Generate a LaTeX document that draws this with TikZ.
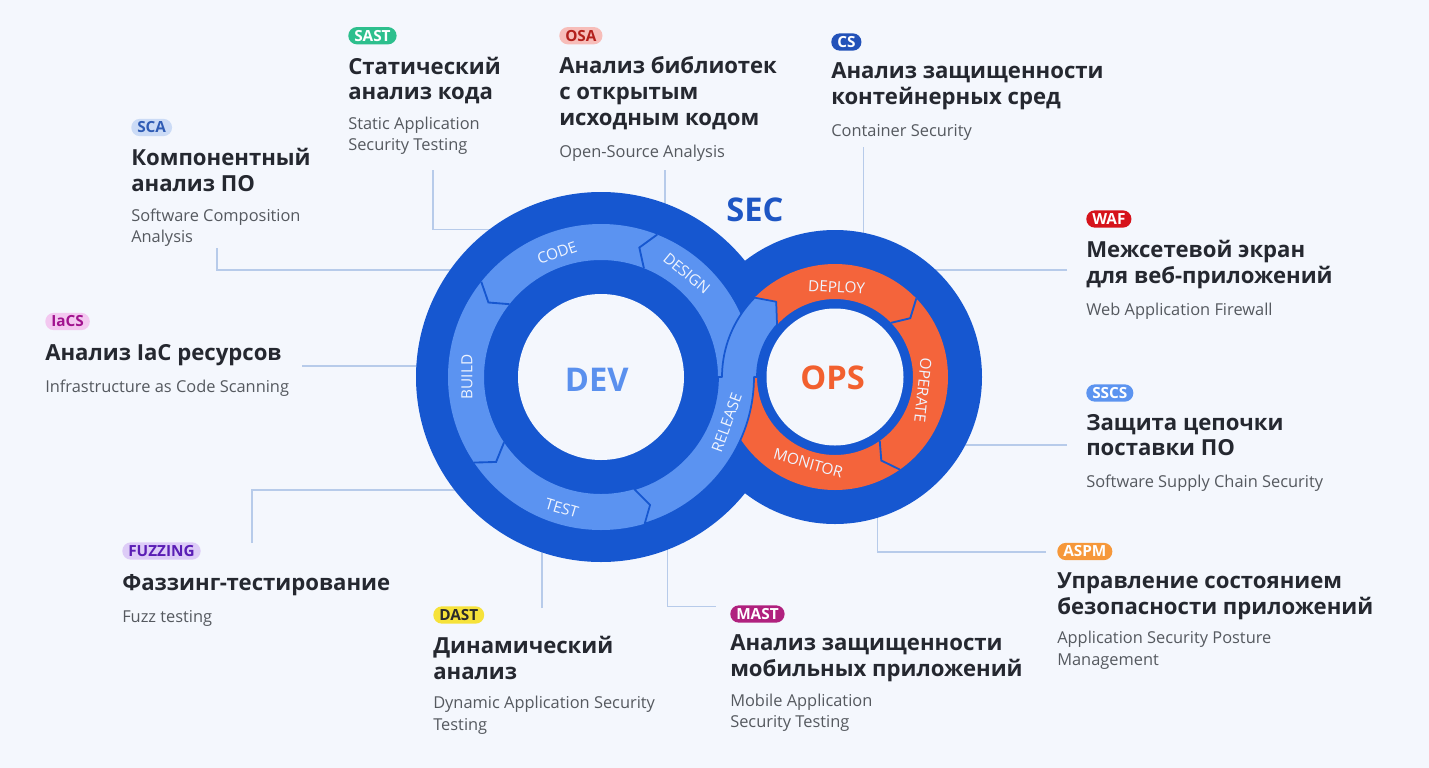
\documentclass[tikz,border=0pt]{standalone}
\usepackage{fontspec}
\setmainfont{Open Sans}
\usepackage{xcolor}
\usepackage{tikz}
\usetikzlibrary{positioning}

\definecolor{pagebg}{HTML}{F4F7FD}
\definecolor{ringdark}{HTML}{1657D0}
\definecolor{ringlight}{HTML}{5B93F1}
\definecolor{ringorange}{HTML}{F4643B}
\definecolor{devtext}{HTML}{5A90EE}
\definecolor{opstext}{HTML}{F2602F}
\definecolor{sectext}{HTML}{1E56C4}
\definecolor{linkcol}{HTML}{B7CBEA}
\definecolor{titleink}{HTML}{252830}
\definecolor{subink}{HTML}{55595F}
% badge colours
\definecolor{sastbg}{HTML}{2DBF8D}
\definecolor{osabg}{HTML}{F7BDB9}
\definecolor{osatx}{HTML}{B3201C}
\definecolor{csbg}{HTML}{2352B9}
\definecolor{scabg}{HTML}{CBDBF6}
\definecolor{scatx}{HTML}{2F5CB5}
\definecolor{iacbg}{HTML}{F3C8F0}
\definecolor{iactx}{HTML}{A1128E}
\definecolor{wafbg}{HTML}{D6131B}
\definecolor{sscsbg}{HTML}{5C94F0}
\definecolor{fuzzbg}{HTML}{DDCCF7}
\definecolor{fuzztx}{HTML}{5A1DB5}
\definecolor{dastbg}{HTML}{F6E23A}
\definecolor{dasttx}{HTML}{2B2B2B}
\definecolor{mastbg}{HTML}{B0217E}
\definecolor{aspmbg}{HTML}{F6983A}

\begin{document}
\begin{tikzpicture}[
    x=0.75pt, y=-0.75pt,
    badge/.style={
        anchor=west,
        rounded corners=6.5pt,
        minimum height=13pt,
        inner xsep=4.5pt, inner ysep=0pt,
        text height=8.2pt, text depth=0pt,
        font=\fontsize{11.5}{13}\selectfont\bfseries
    },
    headline/.style={
        anchor=north west, inner sep=0pt, align=left,
        text=titleink,
        font=\fontsize{16.6}{19.3}\selectfont\bfseries,
        execute at begin node=\strut, execute at end node=\strut
    },
    subline/.style={
        anchor=north west, inner sep=0pt, align=left,
        text=subink,
        font=\fontsize{12.3}{16.3}\selectfont,
        execute at begin node=\strut, execute at end node=\strut
    },
    link/.style={draw=linkcol, line width=1.1pt},
    phaselbl/.style={
        text=white!90!ringlight, inner sep=0pt,
        font=\fontsize{11.5}{12}\selectfont
    },
    chev/.style={draw=ringdark, line width=1.4pt},
    hub/.style={inner sep=0pt, font=\fontsize{24.5}{26}\selectfont\bfseries}
]

\useasboundingbox (0,0) rectangle (1429,768);
\fill[pagebg] (0,0) rectangle (1429,768);

\coordinate (dev) at (601,377);
\coordinate (ops) at (835,377);

% connector ends (the far ends sit under the rings)
\coordinate (scaA) at (217,248);   \coordinate (scaB) at (520,270);
\coordinate (sastA) at (433,170);  \coordinate (sastB) at (520,229.3);
\coordinate (osaA) at (665,170);   \coordinate (osaB) at (665,230);
\coordinate (csA) at (863.3,147);  \coordinate (csB) at (863.3,260);
\coordinate (wafA) at (1067,270);  \coordinate (wafB) at (900,270);
\coordinate (sscsA) at (1067,445); \coordinate (sscsB) at (930,445);
\coordinate (iacA) at (302,366);   \coordinate (iacB) at (450,366);
\coordinate (fuzzA) at (252,543);  \coordinate (fuzzB) at (520,490);
\coordinate (dastA) at (542,608);  \coordinate (dastB) at (542,520);
\coordinate (mastA) at (715.6,606.7); \coordinate (mastB) at (667.5,520);
\coordinate (aspmA) at (1046,552); \coordinate (aspmB) at (877.7,480);

\draw[link] (scaA) |- (scaB);
\draw[link] (sastA) |- (sastB);
\draw[link] (osaA) -- (osaB);
\draw[link] (csA) -- (csB);
\draw[link] (wafA) -- (wafB);
\draw[link] (sscsA) -- (sscsB);
\draw[link] (iacA) -- (iacB);
\draw[link] (fuzzA) |- (fuzzB);
\draw[link] (dastA) -- (dastB);
\draw[link] (mastA) -| (mastB);
\draw[link] (aspmA) -| (aspmB);

% the two rings
\fill[ringdark] (dev) circle[radius=185];
\fill[ringdark] (ops) circle[radius=147];
\fill[ringlight, even odd rule] (dev) circle[radius=153] circle[radius=117];
\fill[ringorange, even odd rule] (ops) circle[radius=113] circle[radius=78];

% release band crossing over
\filldraw[fill=ringlight, draw=ringdark, line width=1.3pt, line join=round]
  plot[domain=73.4:0, samples=40] ({601+153*cos(\x)}, {377+153*sin(\x)})
  -- plot[domain=180:222, samples=25] ({835+78*cos(\x)}, {377+78*sin(\x)})
  -- ({835+95.5*cos(232)}, {377+95.5*sin(232)})
  -- plot[domain=224.6:180, samples=25] ({835+113*cos(\x)}, {377+113*sin(\x)})
  -- plot[domain=0:73.5, samples=40] ({601+117*cos(\x)}, {377+117*sin(\x)})
  -- ({601+137*cos(69)}, {377+137*sin(69)}) -- cycle;

\begin{scope}[shift={(dev)}]
  \draw[chev] (291.5:153) -- (286.5:135) -- (291.5:117);
  \draw[chev] (218.5:153) -- (213.5:135) -- (218.5:117);
  \draw[chev] (146:153) -- (141:135) -- (146:117);
  \fill[pagebg] (0,0) circle[radius=83];
  \node[phaselbl, rotate=19.5] (lblcode) at (250.5:131.6) {CODE};
  \node[phaselbl, rotate=-39.6] (lbldesign) at (309.6:134.5) {DESIGN};
  \node[phaselbl, rotate=90] (lblbuild) at (180:134) {BUILD};
  \node[phaselbl, rotate=-16.6] (lbltest) at (106.6:137) {TEST};
  \node[phaselbl, rotate=70] (lblrelease) at (20:133.8) {RELEASE};
\end{scope}
\begin{scope}[shift={(ops)}]
  \draw[chev] (316:113) -- (322:95.5) -- (316:78);
  \draw[chev] (55:113) -- (61:95.5) -- (55:78);
  \fill[pagebg] (0,0) circle[radius=68.5];
  \node[phaselbl, rotate=-3] (lbldeploy) at (271:90) {DEPLOY};
  \node[phaselbl, rotate=-96] (lbloperate) at (8.4:89) {OPERATE};
  \node[phaselbl, rotate=-16] (lblmonitor) at (107.2:90.3) {MONITOR};
\end{scope}

\node[hub, text=devtext] (devlbl) at (596.7,379.7) {DEV};
\node[hub, text=opstext] (opslbl) at (832.5,377.5) {OPS};
\node[hub, text=sectext] (seclbl) at (755,210) {SEC};

% top row
\node[badge, fill=sastbg, text=white] (sast) at (348,35.7) {SAST};
\node[below=8.9pt of sast.south west, headline] (sasthead) {Статический\\анализ кода};
\node[below=6.5pt of sasthead.south west, subline] (sastsub) {Static Application\\Security Testing};

\node[badge, fill=osabg, text=osatx] (osa) at (559,35.7) {OSA};
\node[below=8.9pt of osa.south west, headline] (osahead) {Анализ библиотек\\с открытым\\исходным кодом};
\node[below=6.5pt of osahead.south west, subline] (osasub) {Open-Source Analysis};

\node[badge, fill=csbg, text=white] (cs) at (831,42) {CS};
\node[below=8.9pt of cs.south west, headline] (cshead) {Анализ защищенности\\контейнерных сред};
\node[below=6.5pt of cshead.south west, subline] (cssub) {Container Security};

% left column
\node[badge, fill=scabg, text=scatx] (sca) at (131,127.5) {SCA};
\node[below=8.9pt of sca.south west, headline] (scahead) {Компонентный\\анализ ПО};
\node[below=6.5pt of scahead.south west, subline] (scasub) {Software Composition\\Analysis};

\node[badge, fill=iacbg, text=iactx] (iacs) at (45,321.5) {IaCS};
\node[below=8.9pt of iacs.south west, headline] (iacshead) {Анализ IaC ресурсов};
\node[below=6.5pt of iacshead.south west, subline] (iacssub) {Infrastructure as Code Scanning};

\node[badge, fill=fuzzbg, text=fuzztx] (fuzz) at (122,551) {FUZZING};
\node[below=8.9pt of fuzz.south west, headline] (fuzzhead) {Фаззинг-тестирование};
\node[below=6.5pt of fuzzhead.south west, subline] (fuzzsub) {Fuzz testing};

% bottom row
\node[badge, fill=dastbg, text=dasttx] (dast) at (433,615) {DAST};
\node[below=8.9pt of dast.south west, headline] (dasthead) {Динамический\\анализ};
\node[below=6.5pt of dasthead.south west, subline] (dastsub) {Dynamic Application Security\\Testing};

\node[badge, fill=mastbg, text=white] (mast) at (730,614) {MAST};
\node[below=8.9pt of mast.south west, headline] (masthead) {Анализ защищенности\\мобильных приложений};
\node[below=6.5pt of masthead.south west, subline] (mastsub) {Mobile Application\\Security Testing};

% right column
\node[badge, fill=wafbg, text=white] (waf) at (1086,219) {WAF};
\node[below=8.9pt of waf.south west, headline] (wafhead) {Межсетевой экран\\для веб-приложений};
\node[below=6.5pt of wafhead.south west, subline] (wafsub) {Web Application Firewall};

\node[badge, fill=sscsbg, text=white] (sscs) at (1086,393) {SSCS};
\node[below=8.9pt of sscs.south west, headline] (sscshead) {Защита цепочки\\поставки ПО};
\node[below=6.5pt of sscshead.south west, subline] (sscssub) {Software Supply Chain Security};

\node[badge, fill=aspmbg, text=white] (aspm) at (1057,551.5) {ASPM};
\node[below=8.9pt of aspm.south west, headline] (aspmhead) {Управление состоянием\\безопасности приложений};
\node[below=6.5pt of aspmhead.south west, subline] (aspmsub) {Application Security Posture\\Management};

\end{tikzpicture}
\end{document}
